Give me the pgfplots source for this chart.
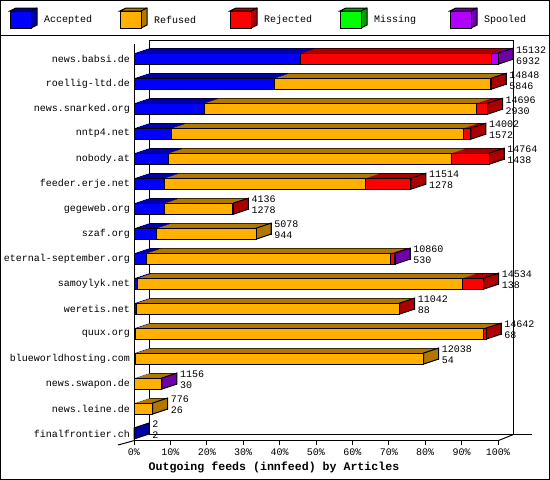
\documentclass[border=0pt]{standalone}
\usepackage{fontspec}
\setmainfont{Liberation Mono}
\usepackage{pgfplots}
\usepackage{pgfplotstable}
\pgfplotsset{compat=1.18}

\definecolor{cA}{RGB}{0,0,255}
\definecolor{dA}{RGB}{0,0,170}
\definecolor{cF}{RGB}{255,176,0}
\definecolor{dF}{RGB}{176,120,0}
\definecolor{cR}{RGB}{255,0,0}
\definecolor{dR}{RGB}{170,0,0}
\definecolor{cM}{RGB}{0,255,0}
\definecolor{dM}{RGB}{0,160,0}
\definecolor{cS}{RGB}{176,0,255}
\definecolor{dS}{RGB}{112,0,170}

\newcommand\smallfont{\fontsize{10bp}{11bp}\selectfont}
\newcommand\titlefont{\fontsize{11.6bp}{13bp}\selectfont\bfseries}

% row 15 = top. acc/ref/rej/mis/spo in articles, tot = offered
\pgfplotstableread{
row  acc   ref   rej  mis spo  tot
15   6932  0     7946 0   254  15132
14   5846  8972  30   0   0    14848
13   2930  11313 453  0   0    14696
12   1572  12118 312  0   0    14002
11   1438  11768 1558 0   0    14764
10   1278  8347  1889 0   0    11514
9    1278  2798  60   0   0    4136
8    944   4134  0    0   0    5078
7    530   10150 150  0   30   10860
6    138   13508 888  0   0    14534
5    88    10934 20   0   0    11042
4    68    14474 100  0   0    14642
3    54    11984 0    0   0    12038
2    30    1116  0    0   10   1156
1    26    750   0    0   0    776
0    2     0     0    0   0    2
}\feeds

\pgfdeclareplotmark{sideface}{%
  \pgfpathmoveto{\pgfqpoint{0bp}{-5.5bp}}%
  \pgfpathlineto{\pgfqpoint{15bp}{-0.5bp}}%
  \pgfpathlineto{\pgfqpoint{15bp}{10.5bp}}%
  \pgfpathlineto{\pgfqpoint{0bp}{5.5bp}}%
  \pgfpathclose
  \pgfusepathqfillstroke}

\pgfplotsset{
  feedaxis/.style={
    scale only axis, width=364bp, height=396bp,
    xmin=0, xmax=15132, ymin=-0.26, ymax=15.59,
    anchor=south west, clip=false,
  },
  bars/.style={feedaxis, xbar stacked, bar width=11bp},
}

\newcommand\cube[3]{% x, front colour, dark colour
  \fill[#3,draw=black,line width=1bp] (#1,11) -- (#1+6,8) -- (#1+27,8) -- (#1+27,25) -- (#1+21,28) -- (#1+21,11) -- cycle;
  \draw[line width=1bp] (#1+21,11) -- (#1+27,8);
  \fill[#2,draw=black,line width=1bp] (#1,11) rectangle (#1+21,28);
}

\begin{document}
\begin{tikzpicture}
\useasboundingbox (0,0) rectangle (550bp,-480bp);

\begin{scope}[x=1bp,y=-1bp]
  \draw[line width=1bp] (0.5,0.5) rectangle (549.5,479.5);
  \draw[line width=1bp] (0,35.5) -- (550,35.5);
  \cube{10}{cA}{dA}
  \cube{120}{cF}{dF}
  \cube{230}{cR}{dR}
  \cube{340}{cM}{dM}
  \cube{450}{cS}{dS}
  \node[anchor=west,inner sep=0pt,font=\smallfont] at (44,20) {Accepted};
  \node[anchor=west,inner sep=0pt,font=\smallfont] at (154,20) {Refused};
  \node[anchor=west,inner sep=0pt,font=\smallfont] at (264,20) {Rejected};
  \node[anchor=west,inner sep=0pt,font=\smallfont] at (374,20) {Missing};
  \node[anchor=west,inner sep=0pt,font=\smallfont] at (484,20) {Spooled};
  % back walls of the 3d frame
  \draw[line width=1bp] (149.5,434.5) -- (149.5,40.5) -- (513.5,40.5) -- (513.5,434.5);
  \draw[line width=1bp] (149.5,434.5) -- (532,434.5);
  \draw[line width=1bp] (118,445) -- (134.5,440.5);
  \draw[line width=1bp] (498.5,440.5) -- (513.5,434.5);
\end{scope}

% depth of the bars: farthest copy with outline, then nearer copies
\begin{axis}[bars, hide axis, at={(149bp,-435bp)}]
  \addplot[fill=dA, draw=black, line width=1bp] table[x=acc,y=row]{\feeds};
  \addplot[fill=dF, draw=black, line width=1bp] table[x=ref,y=row]{\feeds};
  \addplot[fill=dR, draw=black, line width=1bp] table[x=rej,y=row]{\feeds};
  \addplot[fill=dM, draw=black, line width=1bp] table[x=mis,y=row]{\feeds};
  \addplot[fill=dS, draw=black, line width=1bp] table[x=spo,y=row]{\feeds};
\end{axis}
\foreach \k in {9,...,1}{
\begin{axis}[bars, hide axis, at={(134bp+1.5bp*\k,-440bp+0.5bp*\k)}]
  \addplot[fill=dA, draw=none] table[x=acc,y=row]{\feeds};
  \addplot[fill=dF, draw=none] table[x=ref,y=row]{\feeds};
  \addplot[fill=dR, draw=none] table[x=rej,y=row]{\feeds};
  \addplot[fill=dM, draw=none] table[x=mis,y=row]{\feeds};
  \addplot[fill=dS, draw=none] table[x=spo,y=row]{\feeds};
\end{axis}
}

% side faces and the numbers at the bar ends
\begin{axis}[feedaxis, hide axis, at={(134bp,-440bp)}]
  \addplot[only marks, mark=sideface, mark options={fill=dS,draw=black,line width=1bp}]
    coordinates {(15132,15) (10860,7) (1156,2)};
  \addplot[only marks, mark=sideface, mark options={fill=dR,draw=black,line width=1bp}]
    coordinates {(14848,14) (14696,13) (14002,12) (14764,11) (11514,10) (4136,9) (14534,6) (11042,5) (14642,4)};
  \addplot[only marks, mark=sideface, mark options={fill=dF,draw=black,line width=1bp}]
    coordinates {(5078,8) (12038,3) (776,1)};
  \addplot[only marks, mark=sideface, mark options={fill=dA,draw=black,line width=1bp}]
    coordinates {(2,0)};
  \addplot[draw=none, mark=none, nodes near coords, point meta=explicit symbolic,
    nodes near coords style={anchor=west, inner sep=0pt, xshift=18bp, yshift=9bp, font=\smallfont, text=black}]
    table[x=tot,y=row,meta=tot]{\feeds};
  \addplot[draw=none, mark=none, nodes near coords, point meta=explicit symbolic,
    nodes near coords style={anchor=west, inner sep=0pt, xshift=18bp, yshift=-2bp, font=\smallfont, text=black}]
    table[x=tot,y=row,meta=acc]{\feeds};
\end{axis}

% front faces
\begin{axis}[bars, at={(134bp,-440bp)},
  axis lines*=left, axis line style={line width=1bp},
  scaled x ticks=false,
  xtick={0,1513.2,3026.4,4539.6,6052.8,7566,9079.2,10592.4,12105.6,13618.8,15132},
  xticklabels={\textrm{0\%},\textrm{10\%},\textrm{20\%},\textrm{30\%},\textrm{40\%},\textrm{50\%},\textrm{60\%},\textrm{70\%},\textrm{80\%},\textrm{90\%},\textrm{100\%}},
  ytick={0,...,15},
  yticklabels={finalfrontier.ch,news.leine.de,news.swapon.de,blueworldhosting.com,quux.org,weretis.net,samoylyk.net,eternal-september.org,szaf.org,gegeweb.org,feeder.erje.net,nobody.at,nntp4.net,news.snarked.org,roellig-ltd.de,news.babsi.de},
  tick align=outside, major tick length=5bp,
  xtick style={black, line width=1bp}, ytick style={draw=none},
  ticklabel style={font=\smallfont},
  yticklabel style={xshift=4.5bp},
  xlabel={Outgoing feeds (innfeed) by Articles},
  xlabel style={font=\titlefont, xshift=-42bp},
]
  \addplot[fill=cA, draw=black, line width=1bp] table[x=acc,y=row]{\feeds};
  \addplot[fill=cF, draw=black, line width=1bp] table[x=ref,y=row]{\feeds};
  \addplot[fill=cR, draw=black, line width=1bp] table[x=rej,y=row]{\feeds};
  \addplot[fill=cM, draw=black, line width=1bp] table[x=mis,y=row]{\feeds};
  \addplot[fill=cS, draw=black, line width=1bp] table[x=spo,y=row]{\feeds};
\end{axis}
\end{tikzpicture}
\end{document}
